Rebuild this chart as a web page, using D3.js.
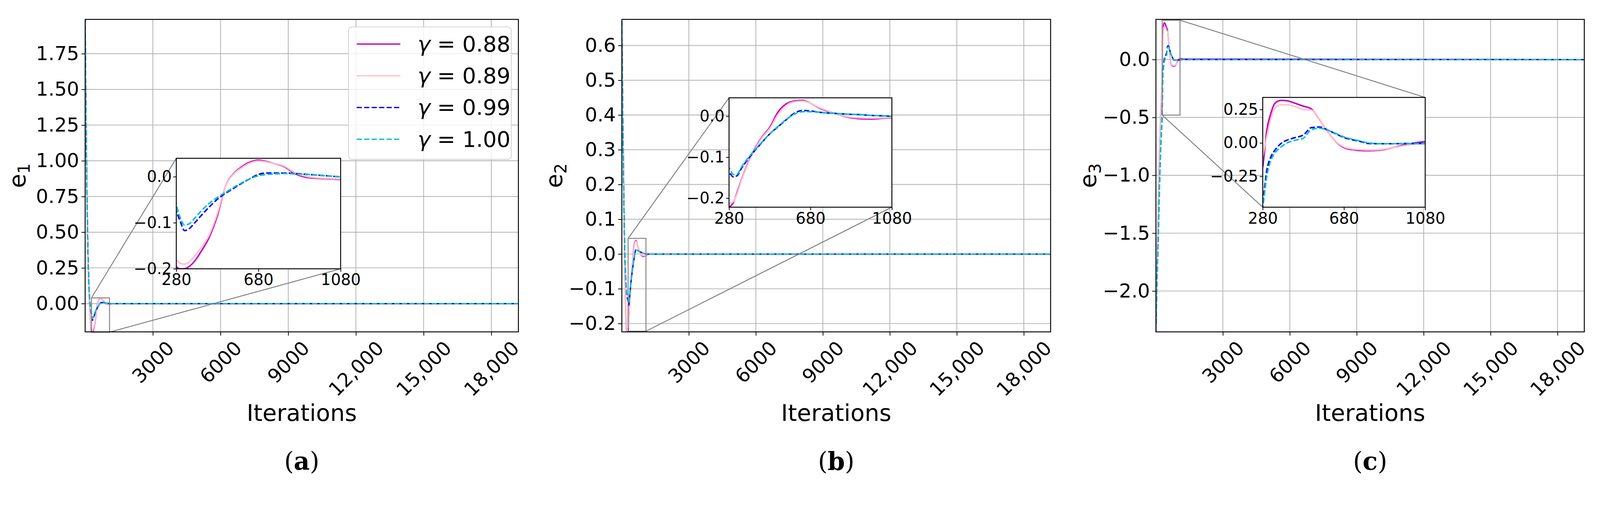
<!DOCTYPE html>
<html>
<head>
<meta charset="utf-8">
<script src="https://cdn.jsdelivr.net/npm/d3@7"></script>
<style>
  html, body { margin: 0; padding: 0; background: #fff; overflow: hidden; }
  svg { display: block; }
  text { font-family: "DejaVu Sans", sans-serif; fill: #000; }
</style>
</head>
<body>
<svg id="chart" width="100%" viewBox="0 0 4284 1319" preserveAspectRatio="xMinYMin meet"></svg>
<script>
// shared iteration grid
const iters = [0, 40, 80, 120, 160, 200, 240, 280, 300, 320, 340, 370, 400, 440, 480, 520, 560, 600, 640, 680, 720, 760, 800, 860, 920, 980, 1040, 1080, 1200, 19200];

const gammas = ['0.88', '0.89', '0.99', '1.00'];

// e1
const e1_088 = [2.0, 1.3, 0.75, 0.4, 0.15, -0.02, -0.13, -0.195, -0.2, -0.2, -0.196, -0.183, -0.163, -0.132, -0.085, -0.02, 0.007, 0.022, 0.032, 0.036, 0.033, 0.028, 0.023, 0.006, -0.002, -0.004, -0.005, -0.006, -0.002, 0];
const e1_089 = [2.0, 1.3, 0.75, 0.4, 0.15, -0.01, -0.12, -0.18, -0.188, -0.19, -0.186, -0.172, -0.155, -0.127, -0.08, -0.02, 0.006, 0.02, 0.03, 0.034, 0.032, 0.028, 0.024, 0.008, 0.0, -0.003, -0.004, -0.005, -0.002, 0];
const e1_099 = [2.0, 1.3, 0.75, 0.4, 0.17, 0.03, -0.03, -0.075, -0.098, -0.117, -0.114, -0.1, -0.085, -0.066, -0.049, -0.036, -0.025, -0.014, -0.004, 0.005, 0.008, 0.008, 0.008, 0.007, 0.005, 0.003, 0.001, 0, 0, 0];
const e1_100 = [2.0, 1.3, 0.75, 0.4, 0.17, 0.03, -0.025, -0.062, -0.09, -0.105, -0.103, -0.09, -0.075, -0.058, -0.045, -0.034, -0.023, -0.013, -0.004, 0.002, 0.005, 0.006, 0.007, 0.006, 0.005, 0.003, 0.001, 0, 0, 0];

// e2
const e2_088 = [0.67, 0.42, 0.2, 0.02, -0.12, -0.21, -0.24, -0.222, -0.212, -0.185, -0.156, -0.118, -0.085, -0.052, -0.027, 0.01, 0.03, 0.037, 0.039, 0.032, 0.021, 0.013, 0.007, -0.002, -0.006, -0.007, -0.005, -0.004, 0, 0];
const e2_089 = [0.67, 0.42, 0.2, 0.02, -0.115, -0.2, -0.23, -0.214, -0.209, -0.188, -0.158, -0.12, -0.087, -0.054, -0.03, 0.004, 0.026, 0.035, 0.037, 0.032, 0.022, 0.014, 0.007, -0.001, -0.004, -0.005, -0.004, -0.003, 0, 0];
const e2_099 = [0.67, 0.42, 0.2, 0.04, -0.05, -0.1, -0.125, -0.136, -0.148, -0.145, -0.128, -0.107, -0.088, -0.065, -0.043, -0.026, -0.009, 0.007, 0.014, 0.013, 0.01, 0.008, 0.007, 0.005, 0.004, 0.002, 0.001, 0, 0, 0];
const e2_100 = [0.67, 0.42, 0.2, 0.04, -0.05, -0.1, -0.12, -0.126, -0.142, -0.141, -0.125, -0.104, -0.086, -0.064, -0.043, -0.025, -0.008, 0.005, 0.011, 0.011, 0.01, 0.008, 0.007, 0.005, 0.004, 0.002, 0.001, 0, 0, 0];

// e3
const e3_088 = [-2.35, -1.9, -1.5, -1.1, -0.8, -0.55, -0.35, -0.179, 0.096, 0.221, 0.296, 0.318, 0.315, 0.296, 0.275, 0.253, 0.171, 0.084, 0.009, -0.035, -0.05, -0.057, -0.058, -0.054, -0.035, -0.014, 0.003, 0.009, 0.005, 0];
const e3_089 = [-2.35, -1.9, -1.5, -1.1, -0.8, -0.55, -0.33, -0.1, 0.05, 0.18, 0.26, 0.285, 0.285, 0.27, 0.25, 0.245, 0.17, 0.085, 0.01, -0.03, -0.045, -0.05, -0.053, -0.05, -0.035, -0.02, -0.006, -0.003, 0, 0];
const e3_099 = [-2.35, -2.0, -1.7, -1.42, -1.1, -0.85, -0.65, -0.45, -0.204, -0.104, -0.054, -0.004, 0.021, 0.04, 0.059, 0.115, 0.119, 0.096, 0.068, 0.04, 0.024, 0.011, -0.004, -0.006, -0.006, -0.004, -0.004, -0.004, 0, 0];
const e3_100 = [-2.35, -2.0, -1.7, -1.42, -1.1, -0.85, -0.66, -0.48, -0.25, -0.13, -0.075, -0.03, 0.0, 0.02, 0.035, 0.1, 0.11, 0.095, 0.07, 0.045, 0.028, 0.015, 0.0, -0.005, -0.005, -0.005, -0.005, -0.005, 0, 0];

const xTicks = [3000, 6000, 9000, 12000, 15000, 18000];
const xTickLabels = ['3000', '6000', '9000', '12,000', '15,000', '18,000'];
const insetXTicks = [280, 680, 1080];

const e1Ticks = [0, 0.25, 0.5, 0.75, 1.0, 1.25, 1.5, 1.75];
const e2Ticks = [-0.2, -0.1, 0, 0.1, 0.2, 0.3, 0.4, 0.5, 0.6];
const e3Ticks = [-2.0, -1.5, -1.0, -0.5, 0.0];
const e1InsetTicks = [-0.2, -0.1, 0.0];
const e2InsetTicks = [-0.2, -0.1, 0.0];
const e3InsetTicks = [-0.25, 0.0, 0.25];

const colors = ['#bf00bf', '#ffc0cb', '#0000ff', '#00bfbf'];
const dashes = [null, null, '14,6', '14,6'];

const svg = d3.select('#chart');
const fmt = d3.format;

let panels = [
  { name: 'a', ylabel: '1', series: [e1_088, e1_089, e1_099, e1_100], left: 228, right: 1388,
    yDomain: [-0.198, 1.99], yTicks: e1Ticks, yFmt: fmt('.2f'),
    inset: { left: 472, right: 912, top: 424, bottom: 720, yDomain: [-0.2, 0.04], yTicks: e1InsetTicks, yFmt: fmt('.1f') },
    corners: [['l', 't'], ['r', 'b']], legend: true },
  { name: 'b', ylabel: '2', series: [e2_088, e2_089, e2_099, e2_100], left: 1665, right: 2813,
    yDomain: [-0.224, 0.675], yTicks: e2Ticks, yFmt: fmt('.1f'),
    inset: { left: 1952, right: 2388, top: 262, bottom: 555, yDomain: [-0.222, 0.045], yTicks: e2InsetTicks, yFmt: fmt('.1f') },
    corners: [['l', 't'], ['r', 'b']] },
  { name: 'c', ylabel: '3', series: [e3_088, e3_089, e3_099, e3_100], left: 3095, right: 4242,
    yDomain: [-2.353, 0.347], yTicks: e3Ticks, yFmt: fmt('.1f'),
    inset: { left: 3381, right: 3816, top: 261, bottom: 555, yDomain: [-0.48, 0.34], yTicks: e3InsetTicks, yFmt: fmt('.2f') },
    corners: [['r', 't'], ['l', 'b']] }
];

const plotTop = 52, plotBottom = 889;

let drawLines = function(g, p, x, y, width) {
  let line = d3.line().x((d, i) => x(iters[i])).y(d => y(d)).curve(d3.curveMonotoneX);
  p.series.forEach((s, k) => {
    g.append('path')
      .attr('d', line(s))
      .attr('fill', 'none')
      .attr('stroke', colors[k])
      .attr('stroke-width', width)
      .attr('stroke-dasharray', dashes[k]);
  });
};

panels.forEach((p, pi) => {
  let x = d3.scaleLinear().domain([0, 19200]).range([p.left, p.right]);
  let y = d3.scaleLinear().domain(p.yDomain).range([plotBottom, plotTop]);
  let g = svg.append('g');

  // grid
  g.selectAll('.gx').data(xTicks).enter().append('line')
    .attr('x1', d => x(d)).attr('x2', d => x(d)).attr('y1', plotTop).attr('y2', plotBottom)
    .attr('stroke', '#b0b0b0').attr('stroke-width', 2);
  g.selectAll('.gy').data(p.yTicks).enter().append('line')
    .attr('x1', p.left).attr('x2', p.right).attr('y1', d => y(d)).attr('y2', d => y(d))
    .attr('stroke', '#b0b0b0').attr('stroke-width', 2);

  // lines, clipped
  svg.append('clipPath').attr('id', 'clip' + pi).append('rect')
    .attr('x', p.left).attr('y', plotTop).attr('width', p.right - p.left).attr('height', plotBottom - plotTop);
  drawLines(g.append('g').attr('clip-path', `url(#clip${pi})`), p, x, y, 3.5);

  // axes
  let xa = g.append('g').attr('transform', `translate(0,${plotBottom})`)
    .call(d3.axisBottom(x).tickValues(xTicks).tickFormat((d, i) => xTickLabels[i]).tickSize(10).tickSizeOuter(0));
  xa.select('.domain').remove();
  xa.selectAll('line').attr('stroke-width', 2);
  // rotated labels centred under the tick, top of the rotated box just below the axis
  xa.selectAll('text')
    .style('font-size', '52px')
    .attr('text-anchor', 'middle')
    .attr('y', 0).attr('dy', '0.35em')
    .attr('transform', function() {
      let L = this.getComputedTextLength();
      let h = (L + 40) * Math.SQRT1_2;
      return `translate(0,${20 + h / 2}) rotate(-45)`;
    });

  let ya = g.append('g').attr('transform', `translate(${p.left},0)`)
    .call(d3.axisLeft(y).tickValues(p.yTicks).tickFormat(p.yFmt).tickSize(10).tickSizeOuter(0));
  ya.select('.domain').remove();
  ya.selectAll('line').attr('stroke-width', 2);
  ya.selectAll('text').style('font-size', '52px').attr('x', -16);

  // zoom box + connectors
  let ins = p.inset;
  let bx = { l: x(280), r: x(1080) };
  let by = { t: y(ins.yDomain[1]), b: y(ins.yDomain[0]) };
  g.append('rect').attr('x', bx.l).attr('y', by.t).attr('width', bx.r - bx.l).attr('height', by.b - by.t)
    .attr('fill', 'none').attr('stroke', '#808080').attr('stroke-width', 2.5);
  let ix = { l: ins.left, r: ins.right }, iy = { t: ins.top, b: ins.bottom };
  p.corners.forEach(c => {
    g.append('line')
      .attr('x1', bx[c[0]]).attr('y1', by[c[1]]).attr('x2', ix[c[0]]).attr('y2', iy[c[1]])
      .attr('stroke', '#808080').attr('stroke-width', 2.5);
  });

  // frame
  g.append('rect').attr('x', p.left).attr('y', plotTop).attr('width', p.right - p.left).attr('height', plotBottom - plotTop)
    .attr('fill', 'none').attr('stroke', '#000').attr('stroke-width', 2.5);

  // inset
  let sx = d3.scaleLinear().domain([280, 1080]).range([ins.left, ins.right]);
  let sy = d3.scaleLinear().domain(ins.yDomain).range([ins.bottom, ins.top]);
  let ig = svg.append('g');
  ig.append('rect').attr('x', ins.left).attr('y', ins.top).attr('width', ins.right - ins.left).attr('height', ins.bottom - ins.top)
    .attr('fill', '#fff');
  svg.append('clipPath').attr('id', 'iclip' + pi).append('rect')
    .attr('x', ins.left).attr('y', ins.top).attr('width', ins.right - ins.left).attr('height', ins.bottom - ins.top);
  drawLines(ig.append('g').attr('clip-path', `url(#iclip${pi})`), p, sx, sy, 4);

  let ixa = ig.append('g').attr('transform', `translate(0,${ins.bottom})`)
    .call(d3.axisBottom(sx).tickValues(insetXTicks).tickFormat(fmt('d')).tickSize(8).tickSizeOuter(0));
  ixa.select('.domain').remove();
  ixa.selectAll('line').attr('stroke-width', 2);
  ixa.selectAll('text').style('font-size', '42px').attr('y', 14).attr('dy', '0.71em');
  let iya = ig.append('g').attr('transform', `translate(${ins.left},0)`)
    .call(d3.axisLeft(sy).tickValues(ins.yTicks).tickFormat(ins.yFmt).tickSize(8).tickSizeOuter(0));
  iya.select('.domain').remove();
  iya.selectAll('line').attr('stroke-width', 2);
  iya.selectAll('text').style('font-size', '42px').attr('x', -12);
  ig.append('rect').attr('x', ins.left).attr('y', ins.top).attr('width', ins.right - ins.left).attr('height', ins.bottom - ins.top)
    .attr('fill', 'none').attr('stroke', '#000').attr('stroke-width', 2.5);

  // labels
  let cx = (p.left + p.right) / 2;
  svg.append('text').attr('x', cx).attr('y', 1128).attr('text-anchor', 'middle')
    .style('font-size', '62px').text('Iterations');
  let yl = svg.append('text').attr('transform', `translate(${p.left - 160},${(plotTop + plotBottom) / 2}) rotate(-90)`)
    .attr('text-anchor', 'middle').style('font-size', '62px');
  yl.append('tspan').text('e');
  yl.append('tspan').attr('dy', 12).style('font-size', '44px').text(p.ylabel);
  let cap = svg.append('text').attr('x', cx).attr('y', 1258).attr('text-anchor', 'middle')
    .style('font-family', '"DejaVu Serif", serif').style('font-size', '66px');
  cap.append('tspan').text('(');
  cap.append('tspan').style('font-weight', 'bold').text(p.name);
  cap.append('tspan').text(')');

  // legend
  if (p.legend) {
    let lg = svg.append('g');
    lg.append('rect').attr('x', 933).attr('y', 72).attr('width', 436).attr('height', 355).attr('rx', 10)
      .attr('fill', '#fff').attr('fill-opacity', 0.8).attr('stroke', '#d0d0d0').attr('stroke-width', 2);
    gammas.forEach((gm, k) => {
      let ry = 118 + k * 85;
      lg.append('line').attr('x1', 955).attr('x2', 1072).attr('y1', ry).attr('y2', ry)
        .attr('stroke', colors[k]).attr('stroke-width', 3.5).attr('stroke-dasharray', dashes[k]);
      let t = lg.append('text').attr('x', 1118).attr('y', ry + 20).style('font-size', '58px');
      t.append('tspan').style('font-style', 'italic').text('γ');
      t.append('tspan').text(' = ' + gm);
    });
  }
});
</script>
</body>
</html>
